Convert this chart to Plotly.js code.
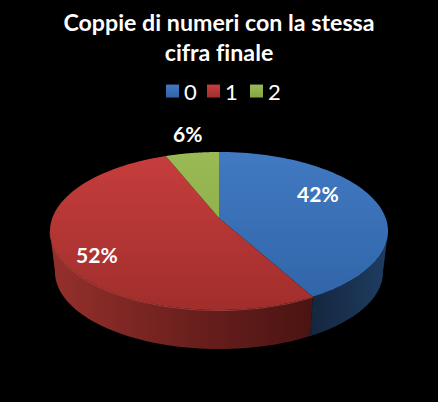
<!DOCTYPE html>
<html><head><meta charset="utf-8">
<script src="https://cdn.plot.ly/plotly-3.0.1.min.js"></script>
<style>html,body{margin:0;padding:0;background:#000}#c{width:438px;height:402px}svg text{font-variant-ligatures:none;font-feature-settings:"liga" 0,"clig" 0;letter-spacing:0.01px}</style>
</head><body><div id="c"></div>
<script>
const categories = ['0', '1', '2'];
const percentValues = [42, 52, 6];
const sliceColors = ['#3a74bb', '#b83635', '#8fb04a'];
const sliceTop = ['#4179c2', '#c63e3d', '#9aba55'];
const sliceBottom = ['#2f64a6', '#a12e2c', '#84a53f'];
const labelAnchors = [[318, 193], [97, 254], [187, 133]];
const legendSwatchLeft = [166, 207, 250];
const wallGradients = [
  [[0, '#14263f'], [1, '#1f3d61']],
  [[0, '#95302c'], [0.55, '#6a1f1d'], [1, '#4a1412']]
];

const W = 438, H = 402;
// Perspective of the tilted disc: apex at (219,218), top-face ellipse spans y 152..310, x 50..388
const cx = 219, apexY = 218, tilt = -0.1646, ya = 41, sx = 166.7;
const ecy = 231, ery = 79, brx = 164 / 169, bry = 77 / 79, bcy = 272;
function proj(deg) {
  const a = deg * Math.PI / 180, u = Math.sin(a), v = -Math.cos(a), d = 1 + tilt * v;
  return [cx + sx * u / d, (ya * v + apexY) / d];
}
function projBottom(deg) {
  const p = proj(deg);
  return [cx + brx * (p[0] - cx), bcy + bry * (p[1] - ecy)];
}

const total = percentValues.reduce((a, b) => a + b, 0);
const ends = []; let run = 0;
percentValues.forEach(v => { run += v; ends.push(run / total * 360); });
const sideA = 90 + Math.asin(-tilt) * 180 / Math.PI;

function wall(a0, a1, colorscale) {
  const xs = [], ys = [], n = 60;
  for (let i = 0; i <= n; i++) { const p = proj(a0 + (a1 - a0) * i / n); xs.push(p[0]); ys.push(p[1]); }
  for (let i = n; i >= 0; i--) { const p = projBottom(a0 + (a1 - a0) * i / n); xs.push(p[0]); ys.push(p[1]); }
  return {
    type: 'scatter', mode: 'none', x: xs, y: ys, fill: 'toself',
    fillgradient: { type: 'horizontal', colorscale, start: Math.min(...xs), stop: Math.max(...xs) },
    hoverinfo: 'skip', showlegend: false
  };
}
function rim(a0, a1, color) {
  const xs = [], ys = [], n = 60;
  for (let i = 0; i <= n; i++) { const p = proj(a0 + (a1 - a0) * i / n); xs.push(p[0]); ys.push(p[1] + 0.5); }
  return { type: 'scatter', mode: 'lines', x: xs, y: ys, line: { color, width: 1 }, hoverinfo: 'skip', showlegend: false };
}

const traces = [
  wall(sideA, ends[0], wallGradients[0]),
  wall(ends[0], 360 - sideA, wallGradients[1]),
  rim(ends[0], 360 - sideA, 'rgba(225,105,95,0.45)'),
  {
    type: 'pie', labels: categories, values: percentValues, sort: false, direction: 'clockwise', rotation: 0,
    textinfo: 'none', hoverinfo: 'none',
    marker: { colors: sliceColors, line: { width: 0 } },
    domain: { x: [50 / W, 388 / W], y: [0.01, 0.85] }
  }
];

const layout = {
  width: W, height: H, margin: { l: 0, r: 0, t: 0, b: 0 },
  paper_bgcolor: '#000', plot_bgcolor: '#000',
  title: {
    text: 'Coppie di numeri con la stessa<br>cifra finale',
    font: { family: 'Lato', size: 23.2, color: '#fff', weight: 700 },
    x: 0.5, xanchor: 'center', y: 0.923, yanchor: 'middle'
  },
  xaxis: { range: [0, W], visible: false, fixedrange: true },
  yaxis: { range: [H, 0], visible: false, fixedrange: true },
  legend: {
    orientation: 'h', x: 0.5, xanchor: 'center', y: 0.773, yanchor: 'middle',
    font: { family: 'Lato', size: 22, color: '#fff' }, bgcolor: 'rgba(0,0,0,0)', itemclick: false, itemdoubleclick: false
  },
  annotations: percentValues.map((v, i) => ({
    text: v + '%', x: labelAnchors[i][0], y: labelAnchors[i][1], xref: 'x', yref: 'y', showarrow: false,
    font: { family: 'Lato', size: 21, color: '#fff', weight: 700 }
  }))
};

Plotly.newPlot('c', traces, layout, { displayModeBar: false }).then(gd => {
  const svg = gd.querySelector('svg.main-svg');
  const NS = 'http://www.w3.org/2000/svg';
  const defs = svg.querySelector('defs');
  categories.forEach((c, i) => {
    [['top', 152, 310], ['sw', -6, 6]].forEach(([pre, y1, y2]) => {
      const g = document.createElementNS(NS, 'linearGradient');
      g.setAttribute('id', pre + i);
      g.setAttribute('gradientUnits', 'userSpaceOnUse');
      g.setAttribute('x1', 0); g.setAttribute('x2', 0);
      g.setAttribute('y1', y1); g.setAttribute('y2', y2);
      [[0, sliceTop[i]], [1, sliceBottom[i]]].forEach(s => {
        const st = document.createElementNS(NS, 'stop');
        st.setAttribute('offset', s[0]); st.setAttribute('stop-color', s[1]);
        g.appendChild(st);
      });
      defs.appendChild(g);
    });
  });
  gd.querySelectorAll('.pielayer .slice path.surface').forEach((p, i) => {
    const a0 = i ? ends[i - 1] : 0, a1 = ends[i], n = 80;
    let d = `M${cx},${apexY}`;
    for (let k = 0; k <= n; k++) { const q = proj(a0 + (a1 - a0) * k / n); d += `L${q[0].toFixed(2)},${q[1].toFixed(2)}`; }
    p.setAttribute('d', d + 'Z');
    p.style.fill = `url(#top${i})`;
  });
  const leg = gd.querySelector('.legend');
  const tx = parseFloat(/translate\(([-\d.]+)/.exec(leg.getAttribute('transform'))[1]);
  const clip = leg.querySelector('.scrollbox');
  if (clip) clip.removeAttribute('clip-path');
  leg.querySelectorAll('.traces').forEach((t, i) => {
    const y = /,\s*([-\d.]+)\)/.exec(t.getAttribute('transform'))[1];
    t.setAttribute('transform', `translate(${legendSwatchLeft[i] + 6.5 - 20 - tx},${y})`);
    const lab = t.querySelector('text.legendtext');
    lab.setAttribute('x', 31.5);
    const sw = t.querySelector('.legendpoints path');
    sw.setAttribute('transform', 'translate(20,0) scale(1.08)');
    sw.style.fill = `url(#sw${i})`;
  });
});
</script></body></html>
